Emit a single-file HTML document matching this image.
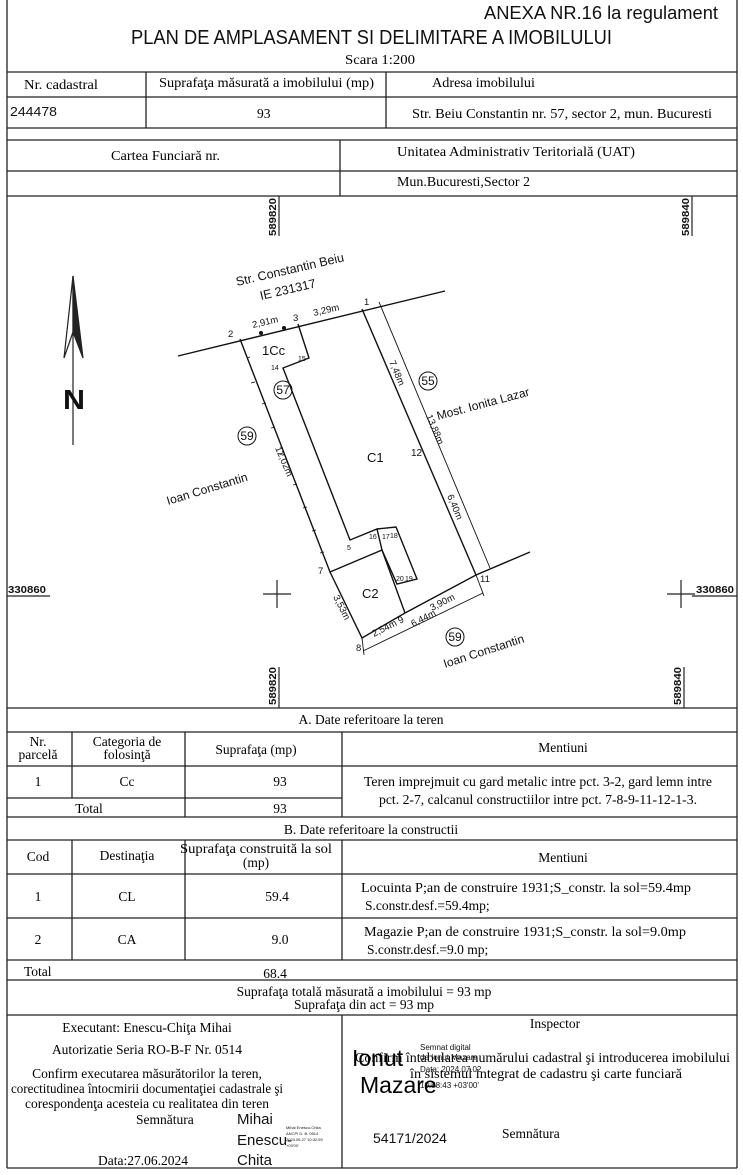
<!DOCTYPE html>
<html><head><meta charset="utf-8"><style>
html,body{margin:0;padding:0;background:#fff;}
svg{display:block}
.s{font-family:"Liberation Serif",serif;font-size:13.5px;fill:#000}
.a{font-family:"Liberation Sans",sans-serif;fill:#111}
</style></head><body>
<svg width="743" height="1175" viewBox="0 0 743 1175" xmlns="http://www.w3.org/2000/svg">
<g stroke="#222" stroke-width="1.3" fill="none">
<line x1="7" y1="0" x2="7" y2="1168"/>
<line x1="737" y1="0" x2="737" y2="1168"/>
<line x1="7" y1="72" x2="737" y2="72"/>
<line x1="7" y1="97" x2="737" y2="97"/>
<line x1="7" y1="128" x2="737" y2="128"/>
<line x1="146" y1="72" x2="146" y2="128"/>
<line x1="386" y1="72" x2="386" y2="128"/>
<line x1="7" y1="140" x2="737" y2="140"/>
<line x1="7" y1="171" x2="737" y2="171"/>
<line x1="7" y1="196" x2="737" y2="196"/>
<line x1="340" y1="140" x2="340" y2="196"/>
<line x1="7" y1="708" x2="737" y2="708"/>
<line x1="7" y1="732" x2="737" y2="732"/>
<line x1="7" y1="766" x2="737" y2="766"/>
<line x1="7" y1="798" x2="342" y2="798"/>
<line x1="7" y1="817" x2="737" y2="817"/>
<line x1="72" y1="732" x2="72" y2="798"/>
<line x1="185" y1="732" x2="185" y2="817"/>
<line x1="342" y1="732" x2="342" y2="817"/>
<line x1="7" y1="840" x2="737" y2="840"/>
<line x1="7" y1="874" x2="737" y2="874"/>
<line x1="7" y1="918" x2="737" y2="918"/>
<line x1="7" y1="960" x2="737" y2="960"/>
<line x1="7" y1="980" x2="737" y2="980"/>
<line x1="7" y1="1015" x2="737" y2="1015"/>
<line x1="72" y1="840" x2="72" y2="960"/>
<line x1="185" y1="840" x2="185" y2="960"/>
<line x1="342" y1="840" x2="342" y2="960"/>
<line x1="342" y1="1015" x2="342" y2="1168"/>
<line x1="7" y1="1168" x2="737" y2="1168"/>
</g>
<text class="a" x="484" y="19" font-size="18" textLength="234" lengthAdjust="spacingAndGlyphs">ANEXA NR.16 la regulament</text>
<text class="a" x="131" y="44" font-size="20" textLength="481" lengthAdjust="spacingAndGlyphs">PLAN DE AMPLASAMENT SI DELIMITARE A IMOBILULUI</text>
<text class="s" x="345" y="64" font-size="15" textLength="70" lengthAdjust="spacingAndGlyphs">Scara 1:200</text>
<text class="s" x="24" y="89" textLength="74" lengthAdjust="spacingAndGlyphs">Nr. cadastral</text>
<text class="s" x="159" y="87" textLength="215" lengthAdjust="spacingAndGlyphs">Suprafaţa măsurată a imobilului (mp)</text>
<text class="s" x="432" y="87" textLength="103" lengthAdjust="spacingAndGlyphs">Adresa imobilului</text>
<text class="a" x="10" y="116" font-size="13" textLength="47" lengthAdjust="spacingAndGlyphs">244478</text>
<text class="s" x="257" y="118">93</text>
<text class="s" x="412" y="118" textLength="300" lengthAdjust="spacingAndGlyphs">Str. Beiu Constantin nr. 57, sector 2, mun. Bucuresti</text>
<text class="s" x="111" y="160" textLength="109" lengthAdjust="spacingAndGlyphs">Cartea Funciară nr.</text>
<text class="s" x="397" y="156" textLength="238" lengthAdjust="spacingAndGlyphs">Unitatea Administrativ Teritorială (UAT)</text>
<text class="s" x="397" y="186" textLength="133" lengthAdjust="spacingAndGlyphs">Mun.Bucuresti,Sector 2</text>

<g stroke="#222" stroke-width="1.2" fill="none">
<line x1="279" y1="196" x2="279" y2="236"/>
<line x1="692" y1="196" x2="692" y2="236"/>
<line x1="279" y1="667" x2="279" y2="708"/>
<line x1="684" y1="667" x2="684" y2="708"/>
<line x1="7" y1="596" x2="50" y2="596"/>
<line x1="692" y1="596" x2="737" y2="596"/>
<line x1="263" y1="594" x2="291" y2="594"/><line x1="277" y1="580" x2="277" y2="608"/>
<line x1="667" y1="594" x2="695" y2="594"/><line x1="681" y1="580" x2="681" y2="608"/>
</g>
<g class="a" font-size="10" font-weight="bold">
<text transform="translate(276,236) rotate(-90)" textLength="38" lengthAdjust="spacingAndGlyphs">589820</text>
<text transform="translate(689,236) rotate(-90)" textLength="38" lengthAdjust="spacingAndGlyphs">589840</text>
<text transform="translate(276,705) rotate(-90)" textLength="38" lengthAdjust="spacingAndGlyphs">589820</text>
<text transform="translate(681,705) rotate(-90)" textLength="38" lengthAdjust="spacingAndGlyphs">589840</text>
<text x="8" y="593" textLength="38" lengthAdjust="spacingAndGlyphs">330860</text>
<text x="696" y="593" textLength="38" lengthAdjust="spacingAndGlyphs">330860</text>
</g>
<line x1="73" y1="276" x2="73" y2="445" stroke="#222" stroke-width="1.2"/>
<polygon points="73,276 64,358 73,332" fill="#fff" stroke="#222" stroke-width="1.2"/>
<polygon points="73,276 83,358 73,332" fill="#222" stroke="#222" stroke-width="1.2"/>
<text class="a" x="63" y="409" font-size="28" font-weight="bold" textLength="22" lengthAdjust="spacingAndGlyphs">N</text>

<g stroke="#111" stroke-width="1.4" fill="none">
<line x1="178" y1="356" x2="445" y2="291"/>
<polyline points="240,339 330,572 362,638 405,613 476,575 530,552"/>
<line x1="362" y1="309" x2="476" y2="575"/>
<polyline points="298,324 309,358 283,368 350,540 377,529 382,550"/>
<polyline points="330,572 382,550 405,613"/>
<polyline points="377,529 396,527 417,579 397,584 382,550"/>
</g>
<g stroke="#111" stroke-width="0.9" fill="none">
<line x1="379" y1="302" x2="490" y2="568"/>
<line x1="363" y1="651" x2="483" y2="593"/>
<line x1="362" y1="638" x2="364" y2="655"/>
<line x1="476" y1="575" x2="484" y2="596"/>
<line x1="250" y1="357" x2="247" y2="358"/>
<line x1="255" y1="382" x2="251" y2="383"/>
<line x1="266" y1="403" x2="262" y2="404"/>
<line x1="275" y1="427" x2="271" y2="428"/>
<line x1="283" y1="453" x2="279" y2="454"/>
<line x1="297" y1="484" x2="293" y2="485"/>
<line x1="307" y1="507" x2="303" y2="508"/>
<line x1="316" y1="530" x2="312" y2="531"/>
<line x1="324" y1="552" x2="320" y2="553"/>
</g>
<circle cx="261" cy="333" r="2" fill="#111"/><circle cx="284" cy="328" r="2" fill="#111"/>
<g fill="none" stroke="#111" stroke-width="1">
<circle cx="283" cy="390" r="9"/><circle cx="428" cy="381" r="9"/><circle cx="247" cy="436" r="9"/><circle cx="455" cy="637" r="9"/>
</g>
<g class="a" font-size="11">
<text x="283" y="394" text-anchor="middle" font-size="12">57</text>
<text x="428" y="385" text-anchor="middle" font-size="12">55</text>
<text x="247" y="440" text-anchor="middle" font-size="12">59</text>
<text x="455" y="641" text-anchor="middle" font-size="12">59</text>
<text transform="translate(237,286) rotate(-13)" font-size="12.5">Str. Constantin Beiu</text>
<text transform="translate(261,300) rotate(-13)" font-size="12.5">IE 231317</text>
<text transform="translate(253,328) rotate(-13)" font-size="9.5">2,91m</text>
<text transform="translate(314,316) rotate(-13)" font-size="9.5">3,29m</text>
<text x="364" y="305" font-size="9.5">1</text>
<text x="293" y="321" font-size="9.5">3</text>
<text x="228" y="337" font-size="9.5">2</text>
<text x="262" y="355" font-size="13">1Cc</text>
<text x="298" y="361" font-size="7">15</text>
<text x="271" y="370" font-size="7">14</text>
<text transform="translate(438,420) rotate(-15)" font-size="12">Most. Ionita Lazar</text>
<text transform="translate(389,362) rotate(67)" font-size="9.5">7,48m</text>
<text transform="translate(426,416) rotate(67)" font-size="9.5">13,88m</text>
<text x="411" y="456" font-size="10">12</text>
<text transform="translate(447,496) rotate(67)" font-size="9.5">6,40m</text>
<text transform="translate(275,448) rotate(67)" font-size="9.5">12,02m</text>
<text transform="translate(168,505) rotate(-17)" font-size="12">Ioan Constantin</text>
<text x="367" y="462" font-size="13">C1</text>
<text x="362" y="598" font-size="13">C2</text>
<text x="347" y="550" font-size="7">5</text>
<text x="369" y="539" font-size="7">16</text>
<text x="382" y="539" font-size="7">17</text>
<text x="390" y="538" font-size="7">18</text>
<text x="396" y="581" font-size="7">20</text>
<text x="405" y="581" font-size="7">19</text>
<text x="318" y="574" font-size="9.5">7</text>
<text x="480" y="582" font-size="9.5">11</text>
<text transform="translate(333,597) rotate(63)" font-size="9.5">3,53m</text>
<text transform="translate(374,637) rotate(-27)" font-size="9.5">2,54m 9</text>
<text transform="translate(432,611) rotate(-27)" font-size="9.5">3,90m</text>
<text transform="translate(413,627) rotate(-27)" font-size="9.5">6,44m</text>
<text x="356" y="651" font-size="9.5">8</text>
<text transform="translate(445,668) rotate(-18)" font-size="12">Ioan Constantin</text>
</g>

<g class="s" text-anchor="middle">
<text x="371" y="724">A. Date referitoare la teren</text>
<text x="38" y="746">Nr.</text><text x="38" y="759">parcelă</text>
<text x="127" y="746">Categoria de</text><text x="127" y="759">folosinţă</text>
<text x="256" y="754">Suprafaţa (mp)</text>
<text x="563" y="752">Mentiuni</text>
<text x="38" y="786">1</text><text x="127" y="786">Cc</text><text x="280" y="786">93</text>
<text x="538" y="786" textLength="348" lengthAdjust="spacingAndGlyphs">Teren imprejmuit cu gard metalic intre pct. 3-2, gard lemn intre</text>
<text x="538" y="804" textLength="318" lengthAdjust="spacingAndGlyphs">pct. 2-7, calcanul constructiilor intre pct. 7-8-9-11-12-1-3.</text>
<text x="89" y="813">Total</text><text x="280" y="813">93</text>
<text x="371" y="834">B. Date referitoare la constructii</text>
<text x="38" y="861">Cod</text><text x="127" y="860">Destinaţia</text>
<text x="256" y="853" textLength="152" lengthAdjust="spacingAndGlyphs">Suprafaţa construită  la sol</text><text x="256" y="867">(mp)</text>
<text x="563" y="862">Mentiuni</text>
<text x="38" y="901">1</text><text x="127" y="901">CL</text><text x="277" y="901">59.4</text>
<text x="38" y="944">2</text><text x="127" y="944">CA</text><text x="280" y="944">9.0</text>
<text x="275" y="978">68.4</text>
<text x="364" y="996">Suprafaţa totală măsurată a imobilului = 93 mp</text>
<text x="364" y="1009">Suprafaţa din act = 93 mp</text>
<text x="147" y="1032">Executant: Enescu-Chiţa Mihai</text>
<text x="147" y="1054">Autorizatie Seria RO-B-F Nr. 0514</text>
<text x="147" y="1078">Confirm executarea măsurătorilor la teren,</text>
<text x="147" y="1093" textLength="272" lengthAdjust="spacingAndGlyphs">corectitudinea  întocmirii documentaţiei cadastrale şi</text>
<text x="147" y="1108">corespondenţa acesteia  cu realitatea din teren</text>
<text x="555" y="1028">Inspector</text>
</g>
<g class="s">
<text x="361" y="892" textLength="330" lengthAdjust="spacingAndGlyphs">Locuinta P;an de construire 1931;S_constr. la sol=59.4mp</text>
<text x="365" y="910">S.constr.desf.=59.4mp;</text>
<text x="364" y="936" textLength="322" lengthAdjust="spacingAndGlyphs">Magazie P;an de construire 1931;S_constr. la sol=9.0mp</text>
<text x="367" y="954">S.constr.desf.=9.0 mp;</text>
<text x="24" y="976">Total</text>
<text x="136" y="1124">Semnătura</text>
<text x="98" y="1165">Data:27.06.2024</text>
<text x="355" y="1062" textLength="375" lengthAdjust="spacingAndGlyphs">Confirm întabularea numărului cadastral şi introducerea imobilului</text>
<text x="410" y="1078" textLength="272" lengthAdjust="spacingAndGlyphs">în sistemul integrat de cadastru şi carte funciară</text>
<text x="502" y="1138">Semnătura</text>
</g>
<g class="a">
<text x="237" y="1124" font-size="15">Mihai</text>
<text x="237" y="1145" font-size="15">Enescu-</text>
<text x="237" y="1165" font-size="15">Chita</text>
<text x="286" y="1129" font-size="4">Mihai Enescu-Chita</text>
<text x="286" y="1135" font-size="4">ANCPI D. B. 0514</text>
<text x="286" y="1141" font-size="4">2024.06.27 10:32:59</text>
<text x="286" y="1147" font-size="4">+03'00'</text>
<text x="352" y="1066" font-size="23" fill="#000">Ionut</text>
<text x="360" y="1093" font-size="23" fill="#000">Mazare</text>
<text x="420" y="1050" font-size="8">Semnat digital</text>
<text x="420" y="1060" font-size="8">de Ionut Mazare</text>
<text x="420" y="1072" font-size="8">Data: 2024.07.02</text>
<text x="420" y="1088" font-size="8">10:58:43 +03'00'</text>
<text x="373" y="1143" font-size="14">54171/2024</text>
</g>
</svg>
</body></html>
